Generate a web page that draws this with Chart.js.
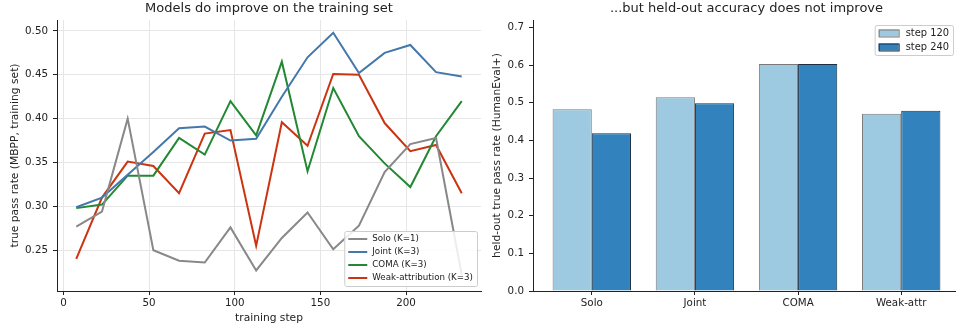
<!DOCTYPE html>
<html>
<head>
<meta charset="utf-8">
<script src="https://cdn.jsdelivr.net/npm/chart.js@4.4.1/dist/chart.umd.min.js"></script>
<style>
  html, body { margin: 0; padding: 0; background: #fff; overflow: hidden; width: 956px; height: 328px; }
  #chart1 { position: absolute; left: 0; top: 0; }
  #chart2 { position: absolute; left: 490px; top: 0; }
</style>
</head>
<body>
<canvas id="chart1" width="490" height="328"></canvas>
<canvas id="chart2" width="470" height="328"></canvas>
<script>
  // left panel: training-set pass rate per step
  const steps = [7.5, 22.5, 37.5, 52.5, 67.5, 82.5, 97.5, 112.5, 127.5, 142.5, 157.5, 172.5, 187.5, 202.5, 217.5, 232.5];
  const solo  = [0.277, 0.294, 0.400, 0.250, 0.238, 0.236, 0.276, 0.227, 0.264, 0.293, 0.251, 0.278, 0.339, 0.371, 0.378, 0.222];
  const joint = [0.299, 0.310, 0.336, 0.362, 0.389, 0.391, 0.375, 0.377, 0.425, 0.470, 0.498, 0.452, 0.475, 0.484, 0.453, 0.448];
  const coma  = [0.298, 0.302, 0.335, 0.335, 0.378, 0.359, 0.420, 0.381, 0.465, 0.340, 0.435, 0.380, 0.349, 0.322, 0.380, 0.420];
  const weak  = [0.240, 0.310, 0.351, 0.346, 0.315, 0.383, 0.387, 0.255, 0.396, 0.369, 0.451, 0.450, 0.395, 0.363, 0.370, 0.315];
  const stepTicks = [0, 50, 100, 150, 200];
  const rateTicks = [0.25, 0.30, 0.35, 0.40, 0.45, 0.50];

  // right panel: held-out accuracy
  const methods = ['Solo', 'Joint', 'COMA', 'Weak-attr'];
  const step120 = [0.483, 0.515, 0.603, 0.471];
  const step240 = [0.419, 0.499, 0.603, 0.479];
  const accTicks = [0.0, 0.1, 0.2, 0.3, 0.4, 0.5, 0.6, 0.7];

  Chart.defaults.font.family = '"DejaVu Sans", sans-serif';
  Chart.defaults.color = '#222';

  const INK = '#222';
  const toXY = arr => arr.map((v, i) => ({ x: steps[i], y: v }));
  const fixTicks = vals => s => { s.ticks = vals.map(v => ({ value: v })); };

  // title centred over the plot area, like matplotlib's ax.set_title
  const axTitle = {
    id: 'axTitle',
    afterDraw(chart, args, o) {
      const { ctx, chartArea } = chart;
      ctx.save();
      ctx.font = '13px "DejaVu Sans"';
      ctx.fillStyle = INK;
      ctx.textAlign = 'center';
      ctx.textBaseline = 'middle';
      ctx.fillText(o.text, (chartArea.left + chartArea.right) / 2, o.y);
      ctx.restore();
    }
  };

  // legend boxed inside the plot area
  const boxLegend = {
    id: 'boxLegend',
    afterDraw(chart, args, o) {
      const { ctx, chartArea } = chart;
      const sets = chart.data.datasets;
      ctx.save();
      ctx.font = o.size + 'px "DejaVu Sans"';
      const tw = Math.max(...sets.map(d => ctx.measureText(d.label).width));
      const w = 4 + o.sym + o.gap + tw + 4;
      const h = o.first * 2 + (sets.length - 1) * o.row;
      const x0 = chartArea.right - o.dx - w;
      const y0 = o.anchor === 'top' ? chartArea.top + o.dy : chartArea.bottom - o.dy - h;
      ctx.fillStyle = 'rgba(255,255,255,0.85)';
      ctx.strokeStyle = '#cccccc';
      ctx.lineWidth = 1;
      ctx.beginPath();
      ctx.roundRect(x0 + 0.5, y0 + 0.5, w, h, 2);
      ctx.fill();
      ctx.stroke();
      sets.forEach((d, i) => {
        const cy = y0 + o.first + i * o.row;
        if (o.kind === 'line') {
          ctx.strokeStyle = d.borderColor;
          ctx.lineWidth = 2;
          ctx.beginPath();
          ctx.moveTo(x0 + 4, cy);
          ctx.lineTo(x0 + 4 + o.sym, cy);
          ctx.stroke();
        } else {
          ctx.fillStyle = d.backgroundColor;
          ctx.fillRect(x0 + 4, cy - 3.5, o.sym, 7);
          ctx.strokeStyle = d.borderColor;
          ctx.lineWidth = 1;
          ctx.strokeRect(x0 + 4.5, cy - 3, o.sym, 7);
        }
        ctx.fillStyle = INK;
        ctx.textAlign = 'left';
        ctx.textBaseline = 'middle';
        ctx.fillText(d.label, x0 + 4 + o.sym + o.gap, cy);
      });
      ctx.restore();
    }
  };

  const lineSet = (label, data, color) => ({
    label, data: toXY(data), borderColor: color, backgroundColor: color,
    borderWidth: 2, pointRadius: 0, tension: 0, fill: false
  });

  const ctx1 = document.getElementById('chart1').getContext('2d');
  const chart1 = new Chart(ctx1, {
    type: 'line',
    data: {
      datasets: [
        lineSet('Solo (K=1)', solo, '#888888'),
        lineSet('Joint (K=3)', joint, '#4477aa'),
        lineSet('COMA (K=3)', coma, '#228833'),
        lineSet('Weak-attribution (K=3)', weak, '#cc3311')
      ]
    },
    plugins: [axTitle, boxLegend],
    options: {
      responsive: false,
      animation: false,
      layout: { padding: { left: 0, right: 9, top: 20, bottom: 0 } },
      plugins: {
        legend: { display: false },
        tooltip: { enabled: false },
        axTitle: { text: 'Models do improve on the training set', y: 9 },
        boxLegend: { kind: 'line', size: 8.7, sym: 19, gap: 5, first: 8, row: 13, anchor: 'bottom', dx: 4, dy: 5 }
      },
      scales: {
        x: {
          type: 'linear', min: -3.75, max: 243.75,
          afterBuildTicks: fixTicks(stepTicks),
          afterFit: s => { s.height = 37; },
          ticks: { padding: 2, font: { size: 10.3 }, color: INK, callback: v => String(v) },
          grid: { color: '#e6e6e6', tickColor: INK, tickLength: 4, tickWidth: 1 },
          border: { color: INK, width: 1 },
          title: { display: true, text: 'training step', font: { size: 10.7 }, color: INK, padding: { top: 0, bottom: 3 } }
        },
        y: {
          min: 0.2035, max: 0.5125,
          afterBuildTicks: fixTicks(rateTicks),
          afterFit: s => { s.width = 57; },
          ticks: { padding: 5, font: { size: 10.3 }, color: INK, callback: v => v.toFixed(2) },
          grid: { color: '#e6e6e6', tickColor: INK, tickLength: 4, tickWidth: 1 },
          border: { color: INK, width: 1 },
          title: { display: true, text: 'true pass rate (MBPP, training set)', font: { size: 10.7 }, color: INK, padding: { top: 8.5, bottom: 0 } }
        }
      }
    }
  });

  const ctx2 = document.getElementById('chart2').getContext('2d');
  const chart2 = new Chart(ctx2, {
    type: 'bar',
    data: {
      datasets: [
        { label: 'step 120', data: step120.map((v, i) => ({ x: i, y: v })),
          backgroundColor: '#9ecae1', borderColor: '#7a7a7a', borderWidth: 1 },
        { label: 'step 240', data: step240.map((v, i) => ({ x: i, y: v })),
          backgroundColor: '#3182bd', borderColor: '#1c2f45', borderWidth: 1 }
      ]
    },
    plugins: [axTitle, boxLegend],
    options: {
      responsive: false,
      animation: false,
      categoryPercentage: 0.76,
      barPercentage: 1.0,
      layout: { padding: { left: 0, right: 0, top: 20, bottom: 0 } },
      plugins: {
        legend: { display: false },
        tooltip: { enabled: false },
        axTitle: { text: '...but held-out accuracy does not improve', y: 9 },
        boxLegend: { kind: 'box', size: 9.9, sym: 20, gap: 7, first: 8, row: 14, anchor: 'top', dx: 7, dy: 5 }
      },
      scales: {
        x: {
          type: 'linear', min: -0.57, max: 3.57, offset: false,
          afterBuildTicks: fixTicks(methods.map((m, i) => i)),
          afterFit: s => { s.height = 37; },
          ticks: { padding: 2, font: { size: 10.3 }, color: INK, callback: v => methods[v] ?? '' },
          grid: { offset: false, drawOnChartArea: false, tickColor: INK, tickLength: 4, tickWidth: 1 },
          border: { color: INK, width: 1 }
        },
        y: {
          min: 0, max: 0.72,
          afterBuildTicks: fixTicks(accTicks),
          afterFit: s => { s.width = 43; },
          ticks: { padding: 5, font: { size: 10.3 }, color: INK, callback: v => v.toFixed(1) },
          grid: { drawOnChartArea: false, tickColor: INK, tickLength: 4, tickWidth: 1 },
          border: { color: INK, width: 1 },
          title: { display: true, text: 'held-out true pass rate (HumanEval+)', font: { size: 10.7 }, color: INK, padding: { top: 1, bottom: 0 } }
        }
      }
    }
  });
</script>
</body>
</html>
